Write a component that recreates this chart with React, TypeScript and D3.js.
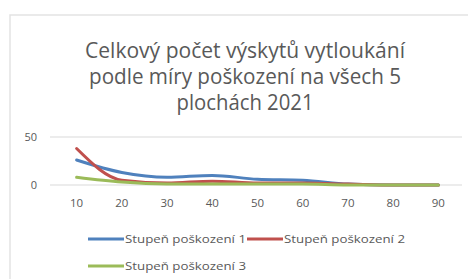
import React from "react";
import * as d3 from "d3";

const categories = ["10", "20", "30", "40", "50", "60", "70", "80", "90"];
const stupen1 = [26, 13, 8, 10, 6, 5, 1, 0, 0];
const stupen2 = [38, 5, 2, 4, 2, 2, 1, 0, 0];
const stupen3 = [8, 3, 1, 1, 1, 1, 0, 0, 0];
const seriesNames = ["Stupeň poškození 1", "Stupeň poškození 2", "Stupeň poškození 3"];
const yTicks = [0, 50];
const titleLines = ["Celkový počet výskytů vytloukání", "podle míry poškození na všech 5", "plochách 2021"];

const colors = ["#4f81bd", "#c0504d", "#9bbb59"];
const font = "'Open Sans', 'Noto Sans', sans-serif";
const textColor = "#595959";

export default function App() {
  const width = 468;
  const height = 279;

  const x = d3.scaleBand().domain(categories).range([54, 461]);
  const y = d3.scaleLinear().domain([0, 50]).range([185, 137]);

  const allSeries = [stupen1, stupen2, stupen3];
  const line = d3
    .line<number>()
    .x((d, i) => (x(categories[i]) as number) + x.bandwidth() / 2)
    .y(d => y(d))
    .curve(d3.curveMonotoneX);

  const legend = [
    { x: 88, y: 239 },
    { x: 247, y: 239 },
    { x: 88, y: 266 },
  ];
  const titleWidths = [320, 312, 137];

  return (
    <svg
      width={width}
      height={height}
      style={{ position: "fixed", left: 0, top: 0, background: "#fff" }}
      fontFamily={font}
    >
      <rect x={10} y={15} width={470} height={280} fill="#fff" stroke="#e3e3e3" strokeWidth={1.5} />

      {titleLines.map((t, i) => (
        <text
          key={i}
          x={245}
          y={58 + i * 26}
          textAnchor="middle"
          fontSize={21}
          fill={textColor}
          textLength={titleWidths[i]}
          lengthAdjust="spacingAndGlyphs"
        >
          {t}
        </text>
      ))}

      {yTicks.map(t => (
        <g key={t}>
          <line x1={50} x2={462} y1={y(t)} y2={y(t)} stroke="#d9d9d9" strokeWidth={1.2} />
          <text x={37} y={y(t)} dy="0.35em" textAnchor="end" fontSize={11} fill={textColor}>
            {t}
          </text>
        </g>
      ))}

      {categories.map(c => (
        <text
          key={c}
          x={(x(c) as number) + x.bandwidth() / 2}
          y={203}
          dy="0.35em"
          textAnchor="middle"
          fontSize={11.5}
          fill={textColor}
        >
          {c}
        </text>
      ))}

      {allSeries.map((s, i) => (
        <path key={i} d={line(s) || ""} fill="none" stroke={colors[i]} strokeWidth={3} strokeLinecap="round" />
      ))}

      {seriesNames.map((n, i) => (
        <g key={n} transform={`translate(${legend[i].x},${legend[i].y})`}>
          <line x1={0} x2={36} y1={0} y2={0} stroke={colors[i]} strokeWidth={3} />
          <text x={37} y={0} dy="0.35em" fontSize={11.5} fill={textColor} textLength={121} lengthAdjust="spacingAndGlyphs">
            {n}
          </text>
        </g>
      ))}
    </svg>
  );
}
